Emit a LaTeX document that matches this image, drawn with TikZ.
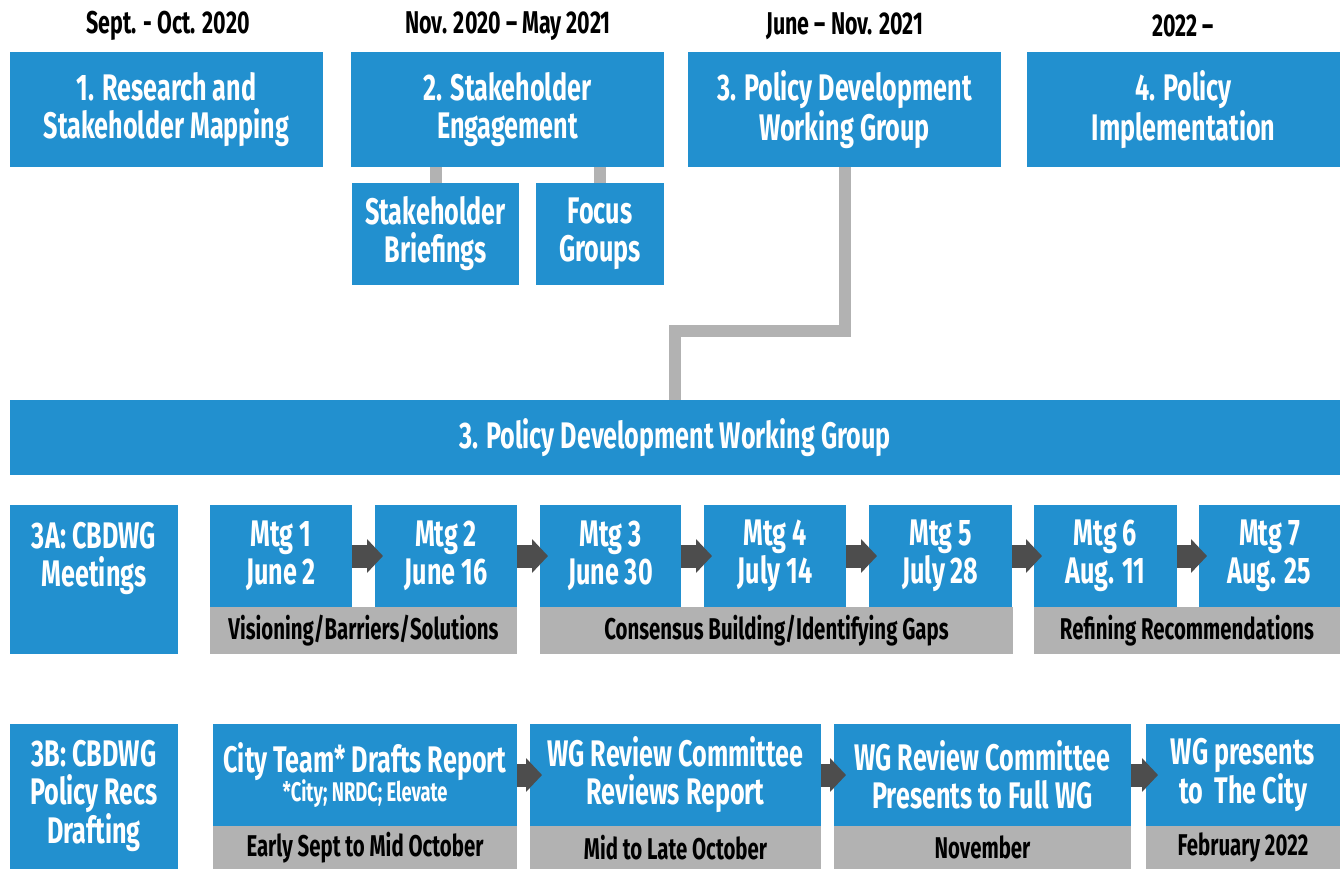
\documentclass[tikz,border=0pt]{standalone}
\usepackage{fontspec}
\setmainfont{Fira Sans}[FakeStretch = 0.68]
\usetikzlibrary{arrows.meta}

\definecolor{phaseblue}{RGB}{34,144,207}
\definecolor{taggray}{RGB}{178,178,178}
\definecolor{arrowgray}{RGB}{77,77,77}

\newcommand{\boxfont}{\fontsize{37}{38}\selectfont\bfseries}
\newcommand{\datefont}{\fontsize{31.5}{33}\selectfont\bfseries}
\newcommand{\tagfont}{\fontsize{30}{32}\selectfont\bfseries}
\newcommand{\notefont}{\fontsize{27}{29}\selectfont\bfseries}

\begin{document}
\begin{tikzpicture}[x = 1pt, y = -1pt,
    phase/.style = {rectangle, fill = phaseblue, text = white, align = center,
        inner sep = 0pt, outer sep = 0pt, anchor = north west, font = \boxfont},
    tag/.style = {rectangle, fill = taggray, text = black, align = center,
        inner sep = 0pt, outer sep = 0pt, anchor = north west, font = \tagfont},
    date/.style = {text = black, font = \datefont},
    link/.style = {draw = taggray, line width = 12pt, line join = miter},
    nextarrow/.style = {draw = arrowgray, line width = 23pt,
        -{Triangle[length = 16pt, width = 33pt]}}]
            \useasboundingbox (0, 0) rectangle (1343, 869);

            % dates
            \node [date] (date1) at (168, 26) {Sept. - Oct. 2020};
            \node [date] (date2) at (508, 26) {Nov. 2020 -- May 2021};
            \node [date] (date3) at (845, 26) {June -- Nov. 2021};
            \node [date] (date4) at (1183, 26) {2022 --};

            % phases
            \node [phase, minimum width = 313, minimum height = 115] (research) at (10, 52) {1. Research and\\Stakeholder Mapping};
            \node [phase, minimum width = 313, minimum height = 115] (engage) at (351, 52) {2. Stakeholder\\Engagement};
            \node [phase, minimum width = 313, minimum height = 115] (wgtop) at (688, 52) {3. Policy Development\\Working Group};
            \node [phase, minimum width = 313, minimum height = 115] (implement) at (1027, 52) {4. Policy\\Implementation};
            \node [phase, minimum width = 167, minimum height = 102] (briefings) at (352, 183) {Stakeholder\\Briefings};
            \node [phase, minimum width = 128, minimum height = 102] (focus) at (536, 183) {Focus\\Groups};
            \draw [link] (briefings.north) -- (briefings.north |- engage.south);
            \draw [link] (focus.north) -- (focus.north |- engage.south);

            \node [phase, minimum width = 1330, minimum height = 75] (pdwg) at (10, 400) {3. Policy Development Working Group};
            \coordinate (elbow) at (675, 331);
            \draw [link] (wgtop.south) |- (elbow) -- (elbow |- pdwg.north);

            % 3A meetings
            \node [phase, minimum width = 168, minimum height = 149] (meetbox) at (10, 505) {};
            \node [text = white, font = \boxfont, align = center] (meet) at (94, 558) {3A: CBDWG\\Meetings};
            \node [phase, minimum width = 142, minimum height = 102] (mtg1) at (210, 505) {Mtg 1\\June 2};
            \node [phase, minimum width = 142, minimum height = 102] (mtg2) at (375, 505) {Mtg 2\\June 16};
            \node [phase, minimum width = 141, minimum height = 102] (mtg3) at (540, 505) {Mtg 3\\June 30};
            \node [phase, minimum width = 142, minimum height = 102] (mtg4) at (704, 505) {Mtg 4\\July 14};
            \node [phase, minimum width = 143, minimum height = 102] (mtg5) at (869, 505) {Mtg 5\\July 28};
            \node [phase, minimum width = 143, minimum height = 102] (mtg6) at (1034, 505) {Mtg 6\\Aug. 11};
            \node [phase, minimum width = 141, minimum height = 102] (mtg7) at (1199, 505) {Mtg 7\\Aug. 25};
            \node [tag, minimum width = 307, minimum height = 47] (vision) at (210, 607) {Visioning/Barriers/Solutions};
            \node [tag, minimum width = 473, minimum height = 47] (consensus) at (540, 607) {Consensus Building/Identifying Gaps};
            \node [tag, minimum width = 306, minimum height = 47] (refine) at (1034, 607) {Refining Recommendations};
            \draw [nextarrow, shorten > = -8pt] (mtg1.east) -- (mtg2.west);
            \draw [nextarrow, shorten > = -8pt] (mtg2.east) -- (mtg3.west);
            \draw [nextarrow, shorten > = -8pt] (mtg3.east) -- (mtg4.west);
            \draw [nextarrow, shorten > = -8pt] (mtg4.east) -- (mtg5.west);
            \draw [nextarrow, shorten > = -8pt] (mtg5.east) -- (mtg6.west);
            \draw [nextarrow, shorten > = -8pt] (mtg6.east) -- (mtg7.west);

            % 3B drafting
            \node [phase, minimum width = 168, minimum height = 145] (draftbox) at (10, 724) {};
            \node [text = white, font = \boxfont, align = center] (draft) at (94, 796) {3B: CBDWG\\Policy Recs\\Drafting};
            \node [phase, minimum width = 304, minimum height = 102] (city) at (213, 724) {City Team* Drafts Report\\[-9pt]{\notefont *City; NRDC; Elevate}};
            \node [phase, minimum width = 291, minimum height = 102] (review) at (530, 724) {WG Review Committee\\Reviews Report};
            \node [phase, minimum width = 297, minimum height = 102] (present) at (834, 724) {WG Review Committee\\Presents to Full WG};
            \node [phase, minimum width = 194, minimum height = 102] (deliver) at (1146, 724) {WG presents\\to~~The City};
            \node [tag, minimum width = 304, minimum height = 43] (early) at (213, 826) {Early Sept to Mid October};
            \node [tag, minimum width = 291, minimum height = 43] (late) at (530, 826) {Mid to Late October};
            \node [tag, minimum width = 297, minimum height = 43] (nov) at (834, 826) {November};
            \node [tag, minimum width = 194, minimum height = 43] (feb) at (1146, 826) {February 2022};
            \draw [nextarrow, shorten > = -12pt] (city.east) -- (review.west);
            \draw [nextarrow, shorten > = -12pt] (review.east) -- (present.west);
            \draw [nextarrow, shorten > = -12pt] (present.east) -- (deliver.west);
        \end{tikzpicture}
\end{document}
